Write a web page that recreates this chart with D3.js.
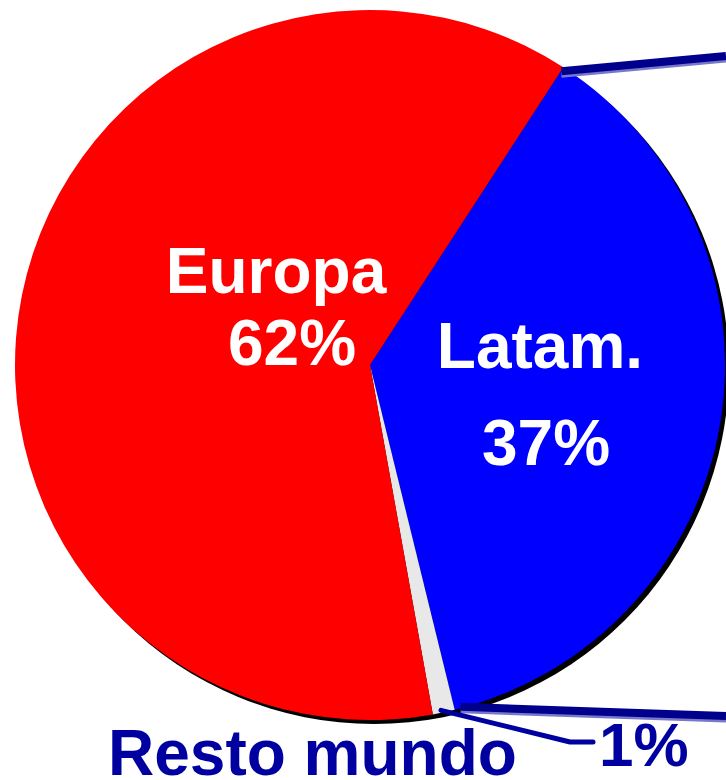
<!DOCTYPE html>
<html>
<head>
<meta charset="utf-8">
<script src="https://cdn.jsdelivr.net/npm/d3@7.9.0/dist/d3.min.js"></script>
<style>
  html, body { margin: 0; padding: 0; background: #fff; }
  svg { display: block; font-family: "Liberation Sans", Arial, sans-serif; font-weight: bold; }
</style>
</head>
<body>
<svg width="726" height="780"></svg>
<script>
// ---- Data ----
const regions = ['Latam.', 'Resto mundo', 'Europa'];
const shares = [37, 1, 62];
const sliceColors = ['#0000ff', '#e8e8e8', '#ff0000'];

// ---- Layout ----
const svg = d3.select('svg');
const cx = 370, cy = 365, r = 355;
const startDeg = 33;

const pie = d3.pie()
  .sort(null)
  .value((d) => d)
  .startAngle(startDeg * Math.PI / 180)
  .endAngle(startDeg * Math.PI / 180 + 2 * Math.PI);
const arcs = pie(shares);
const arcGen = d3.arc().innerRadius(0).outerRadius(r);

const g = svg.append('g').attr('transform', `translate(${cx},${cy})`);

// shadow
g.append('circle').attr('cx', 4).attr('cy', 4).attr('r', r).attr('fill', '#000');

g.selectAll('path.slice')
  .data(arcs)
  .join('path')
  .attr('class', 'slice')
  .attr('d', arcGen)
  .attr('fill', (_, i) => sliceColors[i]);

// point on rim at angle
const rim = (a, rr) => [cx + rr * Math.sin(a), cy - rr * Math.cos(a)];

// ---- connector lines (pie-of-pie style) ----
const lat = arcs[0];
const p1 = rim(lat.startAngle, r);
const p2 = rim(lat.endAngle, r);
const connectors = [
  [[p1[0] - 2, p1[1] + 4], [726, 56]],
  [[p2[0] + 6, p2[1] - 3], [726, 716]]
];
connectors.forEach(([a, b]) => {
  svg.append('line')
    .attr('x1', a[0]).attr('y1', a[1] + 4).attr('x2', b[0]).attr('y2', b[1] + 4)
    .attr('stroke', '#7777cc').attr('stroke-width', 5);
  svg.append('line')
    .attr('x1', a[0]).attr('y1', a[1]).attr('x2', b[0]).attr('y2', b[1])
    .attr('stroke', '#00008c').attr('stroke-width', 8);
});

// ---- leader line for Resto mundo ----
const rest = arcs[1];
const mid = (rest.startAngle + rest.endAngle) / 2;
const lp = rim(mid, r - 4);
svg.append('path')
  .attr('d', d3.line()([[lp[0] - 2, lp[1] + 2], [570, 742], [593, 742]]))
  .attr('fill', 'none')
  .attr('stroke', '#0000a0')
  .attr('stroke-width', 5)
  .attr('stroke-linecap', 'round')
  .attr('stroke-linejoin', 'round');

// ---- labels ----
const white = [
  { t: regions[2], x: 276, y: 293 },
  { t: shares[2] + '%', x: 292, y: 365 },
  { t: regions[0], x: 540, y: 368 },
  { t: shares[0] + '%', x: 546, y: 465 }
];
svg.selectAll('text.in')
  .data(white)
  .join('text')
  .attr('class', 'in')
  .attr('x', (d) => d.x).attr('y', (d) => d.y)
  .attr('text-anchor', 'middle')
  .attr('fill', '#fff')
  .attr('font-size', 64)
  .text((d) => d.t);

svg.append('text')
  .attr('x', 108).attr('y', 775)
  .attr('fill', '#0000a0').attr('font-size', 64)
  .text(regions[1]);
svg.append('text')
  .attr('x', 599).attr('y', 766)
  .attr('fill', '#0000a0').attr('font-size', 62)
  .text(shares[1] + '%');
</script>
</body>
</html>
